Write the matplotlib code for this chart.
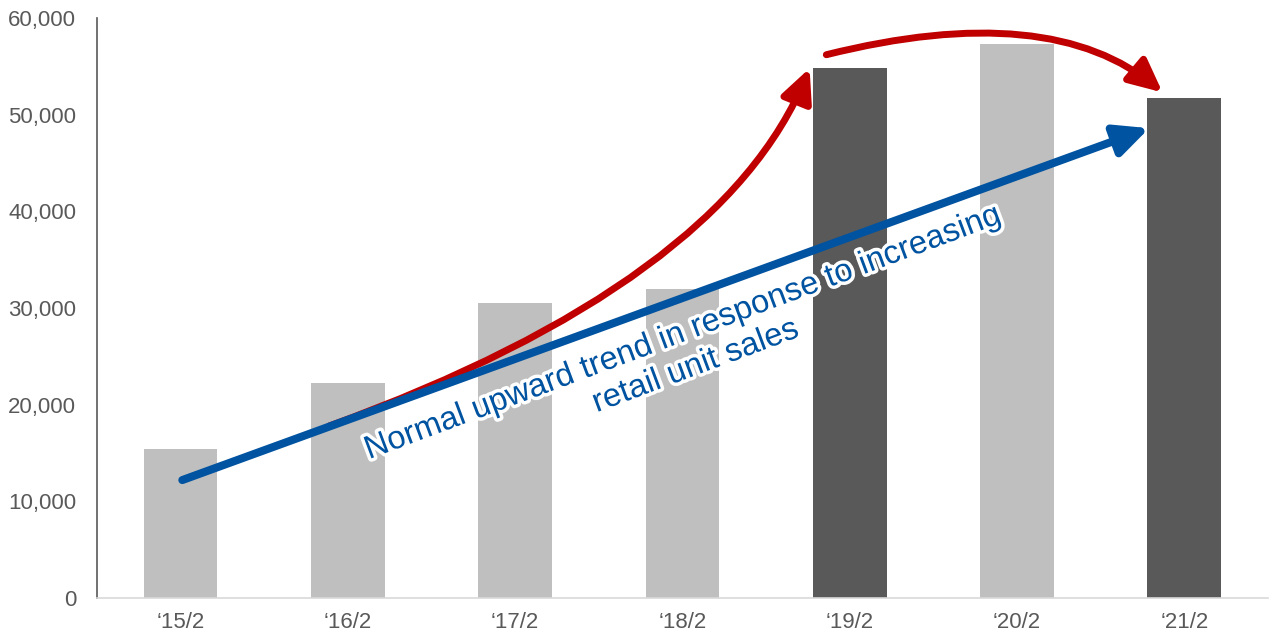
import matplotlib
matplotlib.use('Agg')
import matplotlib.pyplot as plt
import matplotlib.patheffects as pe
from matplotlib.patches import FancyArrowPatch
from matplotlib.ticker import FuncFormatter

plt.rcParams['font.family'] = ['Liberation Sans', 'DejaVu Sans']

# data
periods = ['\u201815/2', '\u201816/2', '\u201817/2', '\u201818/2', '\u201819/2', '\u201820/2', '\u201821/2']
values = [15400, 22200, 30500, 32000, 54800, 57300, 51700]
highlight = [False, False, False, False, True, False, True]

# annotation arrows, data coordinates (x = category index)
trend_start = (0.01, 12200)
trend_end = (5.79, 48600)
surge_start = (0.89, 17800)
surge_end = (3.76, 54800)
drop_start = (3.86, 56200)
drop_end = (5.87, 52300)

light = '#BFBFBF'
dark = '#595959'
blue = '#0053A0'
red = '#C00000'

fig = plt.figure(figsize=(12.73, 6.38), dpi=100)
ax = fig.add_axes([0.0762, 0.0627, 0.9198, 0.9091])

x = list(range(len(periods)))
colors = [dark if h else light for h in highlight]
ax.bar(x, values, width=0.44, color=colors, zorder=2)

ax.set_xlim(-0.5, len(periods) - 0.5)
ax.set_ylim(0, 60000)
ax.set_yticks(range(0, 60001, 10000))
ax.yaxis.set_major_formatter(FuncFormatter(lambda v, p: f'{int(v):,}'))
ax.set_xticks(x)
ax.set_xticklabels(periods)
ax.tick_params(axis='both', length=0, labelsize=16, colors=dark)
ax.tick_params(axis='y', pad=15)
ax.tick_params(axis='x', pad=10)

for s in ['top', 'right']:
    ax.spines[s].set_visible(False)
ax.spines['left'].set_color(dark)
ax.spines['left'].set_linewidth(1.2)
ax.spines['bottom'].set_color('#D9D9D9')
ax.spines['bottom'].set_linewidth(1.2)

head = '-|>,head_length=2.0,head_width=0.95'

# red curved arrows (under the blue one)
surge = FancyArrowPatch(surge_start, surge_end, arrowstyle=head,
                        connectionstyle='angle3,angleA=20,angleB=68',
                        mutation_scale=10, color=red, lw=5, shrinkA=0, shrinkB=0, zorder=3)
ax.add_patch(surge)

drop = FancyArrowPatch(drop_start, drop_end, arrowstyle=head,
                       connectionstyle='angle3,angleA=14,angleB=-40',
                       mutation_scale=10, color=red, lw=5, shrinkA=0, shrinkB=0, zorder=3)
ax.add_patch(drop)

# blue straight trend arrow
trend = FancyArrowPatch(trend_start, trend_end, arrowstyle=head,
                        mutation_scale=10, color=blue, lw=5.8, shrinkA=0, shrinkB=0, zorder=4)
ax.add_patch(trend)

ax.text(3.04, 25700, 'Normal upward trend in response to increasing\nretail unit sales',
        rotation=20.5, rotation_mode='anchor', ha='center', va='center', multialignment='center',
        fontsize=23.5, color=blue, zorder=5,
        path_effects=[pe.withStroke(linewidth=5, foreground='white')])

fig.savefig('out.png', dpi=100)
